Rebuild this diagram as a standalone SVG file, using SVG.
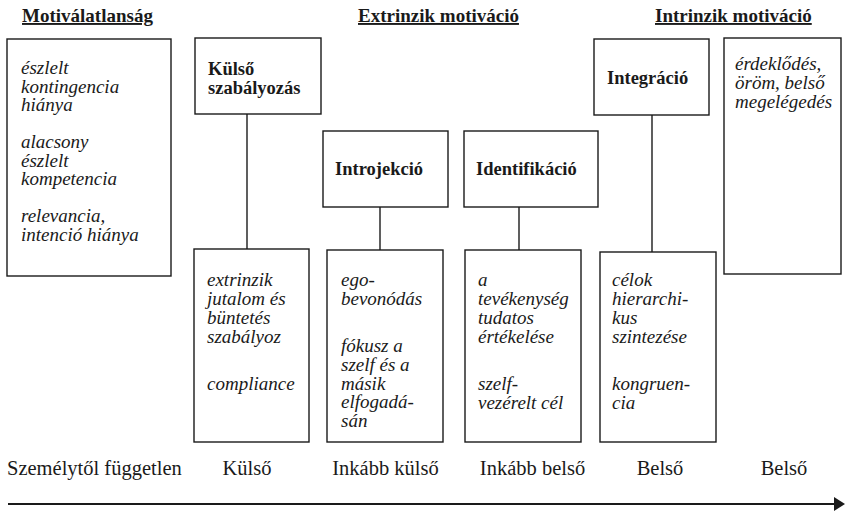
<svg xmlns="http://www.w3.org/2000/svg" width="845" height="512" viewBox="0 0 845 512">
<style>
.box{fill:#fff;stroke:#1a1a1a;stroke-width:1.4}
.con{stroke:#1a1a1a;stroke-width:1.4;fill:none}
.hd{font-family:"Liberation Serif","Times New Roman",serif;font-weight:bold;font-size:19px;fill:#1a1a1a;text-decoration:underline}
.lb{font-family:"Liberation Serif","Times New Roman",serif;font-weight:bold;font-size:18.5px;fill:#1a1a1a}
.it{font-family:"Liberation Serif","Times New Roman",serif;font-style:italic;font-size:19px;fill:#1a1a1a}
.sc{font-family:"Liberation Serif","Times New Roman",serif;font-size:20.5px;fill:#1a1a1a;text-anchor:middle}
</style>
<rect width="845" height="512" fill="#fff"/>
<g id="headers">
<text class="hd" x="22" y="22">Motiválatlanság</text>
<text class="hd" x="358" y="22">Extrinzik motiváció</text>
<text class="hd" x="655" y="22">Intrinzik motiváció</text>
</g>
<g id="connectors">
<line class="con" x1="247" y1="114" x2="247" y2="249"/>
<line class="con" x1="380" y1="207" x2="380" y2="250"/>
<line class="con" x1="519" y1="207" x2="519" y2="250"/>
<line class="con" x1="652" y1="115" x2="652" y2="252"/>
<line x1="8" y1="504" x2="836" y2="504" stroke="#1a1a1a" stroke-width="2"/>
<polygon points="834,497 845,504 834,511" fill="#1a1a1a"/>
</g>
<g id="amotivation">
<rect class="box" x="7" y="39" width="164" height="237"/>
<text class="it" x="21"><tspan x="21" y="74">észlelt</tspan><tspan x="21" y="92.5">kontingencia</tspan><tspan x="21" y="111">hiánya</tspan><tspan x="21" y="148">alacsony</tspan><tspan x="21" y="166.5">észlelt</tspan><tspan x="21" y="185">kompetencia</tspan><tspan x="21" y="222">relevancia,</tspan><tspan x="21" y="240.5">intenció hiánya</tspan></text>
</g>
<g id="kulso">
<rect class="box" x="195" y="38" width="126" height="76"/>
<text class="lb"><tspan x="208" y="75">Külső</tspan><tspan x="208" y="94">szabályozás</tspan></text>
</g>
<g id="kulso-desc">
<rect class="box" x="194" y="249" width="115" height="193"/>
<text class="it"><tspan x="207" y="286">extrinzik</tspan><tspan x="207" y="305">jutalom és</tspan><tspan x="207" y="324">büntetés</tspan><tspan x="207" y="343">szabályoz</tspan><tspan x="207" y="390">compliance</tspan></text>
</g>
<g id="introjekcio">
<rect class="box" x="323" y="131" width="125" height="76"/>
<text class="lb" x="335" y="175">Introjekció</text>
</g>
<g id="introjekcio-desc">
<rect class="box" x="327" y="250" width="116" height="192"/>
<text class="it"><tspan x="341" y="286">ego-</tspan><tspan x="341" y="305">bevonódás</tspan><tspan x="341" y="352">fókusz a</tspan><tspan x="341" y="371">szelf és a</tspan><tspan x="341" y="389.5">másik</tspan><tspan x="341" y="408">elfogadá-</tspan><tspan x="341" y="427">sán</tspan></text>
</g>
<g id="identifikacio">
<rect class="box" x="464" y="131" width="134" height="76"/>
<text class="lb" x="476" y="175">Identifikáció</text>
</g>
<g id="identifikacio-desc">
<rect class="box" x="465" y="250" width="116" height="192"/>
<text class="it"><tspan x="478" y="286">a</tspan><tspan x="478" y="305">tevékenység</tspan><tspan x="478" y="324">tudatos</tspan><tspan x="478" y="343">értékelése</tspan><tspan x="478" y="390">szelf-</tspan><tspan x="478" y="409">vezérelt cél</tspan></text>
</g>
<g id="integracio">
<rect class="box" x="594" y="39" width="115" height="76"/>
<text class="lb" x="607" y="84">Integráció</text>
</g>
<g id="integracio-desc">
<rect class="box" x="600" y="252" width="116" height="190"/>
<text class="it"><tspan x="612" y="286">célok</tspan><tspan x="612" y="305">hierarchi-</tspan><tspan x="612" y="324">kus</tspan><tspan x="612" y="343">szintezése</tspan><tspan x="612" y="390">kongruen-</tspan><tspan x="612" y="409">cia</tspan></text>
</g>
<g id="intrinzik">
<rect class="box" x="724" y="38" width="117" height="236"/>
<text class="it"><tspan x="735" y="70">érdeklődés,</tspan><tspan x="735" y="89">öröm, belső</tspan><tspan x="735" y="108">megelégedés</tspan></text>
</g>
<g id="scale">
<text class="sc" x="7" y="475" style="text-anchor:start">Személytől független</text>
<text class="sc" x="247" y="475">Külső</text>
<text class="sc" x="385.5" y="475">Inkább külső</text>
<text class="sc" x="532.5" y="475">Inkább belső</text>
<text class="sc" x="660" y="475">Belső</text>
<text class="sc" x="784" y="475">Belső</text>
</g>
</svg>
